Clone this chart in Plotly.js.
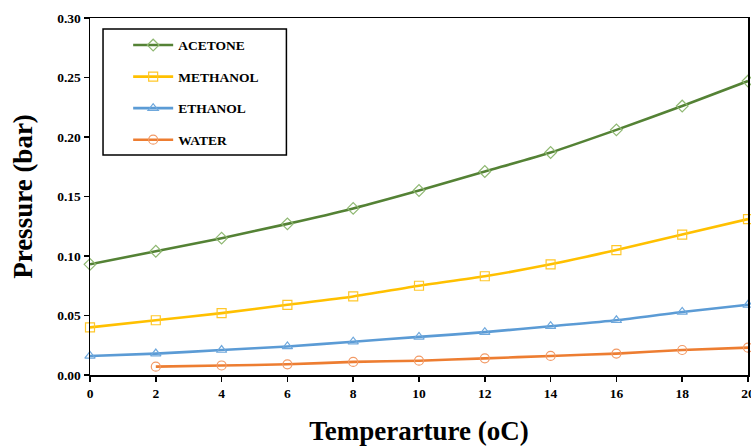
<!DOCTYPE html>
<html>
<head>
<meta charset="utf-8">
<script src="https://cdn.plot.ly/plotly-3.0.1.min.js"></script>
<style>html,body{margin:0;padding:0;background:#fff;}#chart{width:751px;height:446px;}</style>
</head>
<body>
<div id="chart"></div>
<script>
const temperature = [0, 2, 4, 6, 8, 10, 12, 14, 16, 18, 20];
const waterTemperature = [2, 4, 6, 8, 10, 12, 14, 16, 18, 20];
const acetone = [0.093, 0.104, 0.115, 0.127, 0.140, 0.155, 0.171, 0.187, 0.206, 0.226, 0.247];
const methanol = [0.040, 0.046, 0.052, 0.059, 0.066, 0.075, 0.083, 0.093, 0.105, 0.118, 0.131];
const ethanol = [0.016, 0.018, 0.021, 0.024, 0.028, 0.032, 0.036, 0.041, 0.046, 0.053, 0.059];
const water = [0.007, 0.008, 0.009, 0.011, 0.012, 0.014, 0.016, 0.018, 0.021, 0.023];
const seriesNames = ['ACETONE', 'METHANOL', 'ETHANOL', 'WATER'];

const serif = 'Liberation Serif, Times New Roman, serif';
function trace(name, x, y, color, mcolor, symbol, group) {
  return {
    type: 'scatter', mode: 'lines+markers', name: name, x: x, y: y,
    legendgroup: group,
    line: {color: color, width: 2.6, shape: 'spline', smoothing: 0.6},
    marker: {symbol: symbol, size: 9, color: mcolor, line: {color: mcolor, width: 1.2}},
    cliponaxis: false
  };
}
const data = [
  trace(seriesNames[0], temperature, acetone, '#548235', '#8fb872', 'diamond-open', 'a'),
  trace(seriesNames[1], temperature, methanol, '#ffc000', '#ffc72a', 'square-open', 'b'),
  trace(seriesNames[2], temperature, ethanol, '#5b9bd5', '#6fa8dc', 'triangle-up-open', 'c'),
  trace(seriesNames[3], waterTemperature, water, '#ed7d31', '#f29a66', 'circle-open', 'd')
];
const layout = {
  width: 751, height: 446,
  margin: {l: 90, r: 3, t: 18, b: 71},
  paper_bgcolor: '#ffffff', plot_bgcolor: '#ffffff',
  font: {family: serif, color: '#000'},
  showlegend: true,
  legend: {
    x: 0.058, y: 0.967, xanchor: 'left', yanchor: 'top',
    bgcolor: 'rgba(0,0,0,0)', borderwidth: 0,
    font: {family: serif, size: 13.5, color: '#000', weight: 'bold'},
    tracegroupgap: 11, itemwidth: 40
  },
  shapes: [{type: 'rect', xref: 'paper', yref: 'paper', x0: 0.0198, x1: 0.2985, y0: 0.616, y1: 0.969,
    line: {color: '#000', width: 1.5}, fillcolor: 'rgba(0,0,0,0)'}],
  xaxis: {
    range: [0, 20], tickmode: 'array', tickvals: temperature, ticktext: temperature.map(String),
    ticklabeloverflow: 'allow',
    showgrid: false, zeroline: false, showline: true, linecolor: '#000', linewidth: 1.5, mirror: true,
    ticks: 'outside', ticklen: 5, tickcolor: '#000', tickwidth: 1.5,
    tickfont: {family: serif, size: 13.5, color: '#000', weight: 'bold'},
    title: {text: 'Temperarture (oC)', font: {family: serif, size: 27, color: '#000', weight: 'bold'}, standoff: 22}
  },
  yaxis: {
    range: [0, 0.30], tickmode: 'array', tickvals: [0, 0.05, 0.10, 0.15, 0.20, 0.25, 0.30],
    tickformat: '.2f',
    showgrid: false, zeroline: false, showline: true, linecolor: '#000', linewidth: 1.5, mirror: true,
    ticks: 'outside', ticklen: 5, tickcolor: '#000', tickwidth: 1.5,
    tickfont: {family: serif, size: 13.5, color: '#000', weight: 'bold'},
    title: {text: 'Pressure (bar)', font: {family: serif, size: 27, color: '#000', weight: 'bold'}, standoff: 16}
  }
};
Plotly.newPlot('chart', data, layout, {displayModeBar: false, staticPlot: true});
</script>
</body>
</html>
